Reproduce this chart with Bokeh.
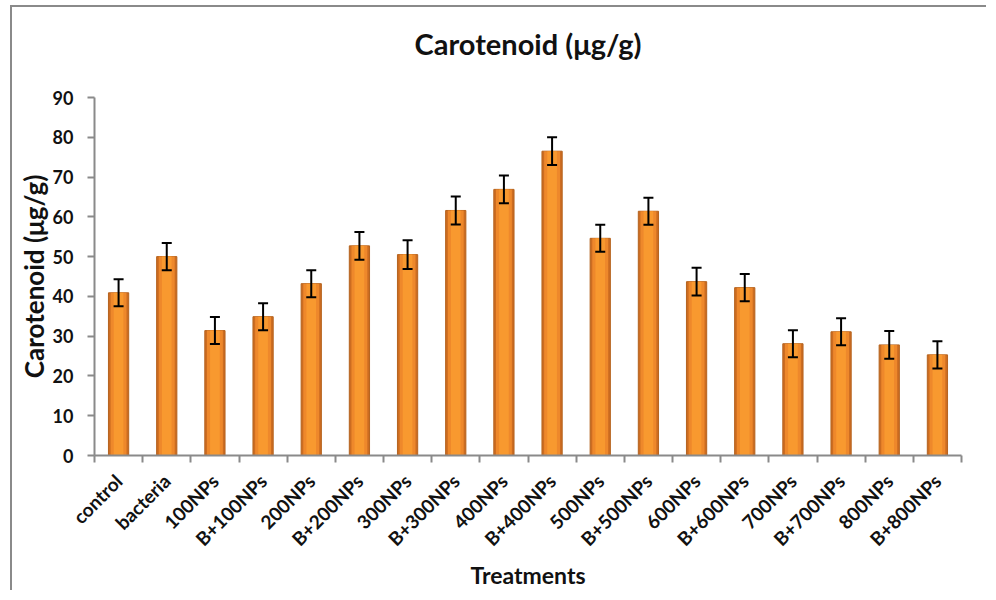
import math
from bokeh.plotting import figure
from bokeh.models import ColumnDataSource, Whisker, FixedTicker, Range1d, TeeHead, LinearAxis
from bokeh.embed import file_html
from bokeh.resources import INLINE

categories = ["control", "bacteria", "100NPs", "B+100NPs", "200NPs", "B+200NPs",
              "300NPs", "B+300NPs", "400NPs", "B+400NPs", "500NPs", "B+500NPs",
              "600NPs", "B+600NPs", "700NPs", "B+700NPs", "800NPs", "B+800NPs"]
values = [40.9, 50.0, 31.4, 34.9, 43.2, 52.7, 50.5, 61.6, 66.9,
          76.5, 54.6, 61.4, 43.7, 42.2, 28.1, 31.1, 27.8, 25.3]
errors = [3.4, 3.4, 3.4, 3.4, 3.4, 3.5, 3.6, 3.5, 3.5,
          3.5, 3.4, 3.4, 3.5, 3.4, 3.4, 3.4, 3.5, 3.4]
y_ticks = [0, 10, 20, 30, 40, 50, 60, 70, 80, 90]
title_text = "Carotenoid (μg/g)"

FONT = "Lato"
xs = [i + 0.5 for i in range(len(categories))]
src = ColumnDataSource(dict(
    x=xs, top=values,
    upper=[v + e for v, e in zip(values, errors)],
    lower=[v - e for v, e in zip(values, errors)],
))

p = figure(width=976, height=585, output_backend="svg", toolbar_location=None,
           x_range=Range1d(0, len(categories)), y_range=Range1d(0, 90),
           min_border_left=82, min_border_right=27, min_border_top=90, min_border_bottom=137)
p.styles = {"border-top": "2px solid #8a8a8a", "border-left": "2px solid #8a8a8a",
            "margin-left": "10px", "margin-top": "5px"}

xa = p.below[0]
ya = p.left[0]

p.outline_line_color = None
p.xgrid.visible = False
p.ygrid.visible = False
p.background_fill_color = "white"
p.border_fill_color = "white"

# bars: darker outer shell + lighter core for a bevelled look
p.vbar(x="x", top="top", bottom=0, width=0.42, source=src,
       fill_color="#CC6C21", line_color="#B5631E", line_width=1)
p.vbar(x="x", top="top", bottom=0, width=0.33, source=src,
       fill_color="#EE882B", line_color=None)
p.vbar(x="x", top="top", bottom=0, width=0.20, source=src,
       fill_color="#F8992F", line_color=None)

w = Whisker(source=src, base="x", upper="upper", lower="lower",
            line_color="black", line_width=2, level="overlay",
            upper_head=TeeHead(size=10, line_width=2, line_color="black"),
            lower_head=TeeHead(size=10, line_width=2, line_color="black"))
p.add_layout(w)

# y axis
ya.ticker = FixedTicker(ticks=y_ticks, minor_ticks=[])
ya.axis_label = "Carotenoid (μg/g)"
ya.axis_label_text_font = FONT
ya.axis_label_text_font_size = "26px"
ya.axis_label_text_font_style = "bold"
ya.axis_label_text_color = "#111111"
ya.axis_label_standoff = 0
ya.major_label_text_font = FONT
ya.major_label_text_font_size = "18px"
ya.major_label_text_font_style = "bold"
ya.major_label_text_color = "#111111"
ya.major_label_standoff = 14
ya.axis_line_color = "#8a8a8a"
ya.axis_line_width = 2
ya.major_tick_line_color = "#8a8a8a"
ya.major_tick_line_width = 2
ya.major_tick_in = 0
ya.major_tick_out = 7

# x axis: labels at bar centres, ticks at category boundaries (minor ticks)
xa.ticker = FixedTicker(ticks=xs, minor_ticks=list(range(len(categories) + 1)))
xa.major_label_overrides = {x: c for x, c in zip(xs, categories)}
xa.major_label_orientation = math.pi / 4
xa.major_label_text_font = FONT
xa.major_label_text_font_size = "19px"
xa.major_label_text_font_style = "bold"
xa.major_label_text_color = "#111111"
xa.major_label_standoff = 15
xa.major_tick_line_color = None
xa.minor_tick_line_color = "#8a8a8a"
xa.minor_tick_line_width = 2
xa.minor_tick_in = 0
xa.minor_tick_out = 7
xa.axis_line_color = "#8a8a8a"
xa.axis_line_width = 2
xa.axis_label = "Treatments"
xa.axis_label_text_font = FONT
xa.axis_label_text_font_size = "23px"
xa.axis_label_text_font_style = "bold"
xa.axis_label_text_color = "#111111"
xa.axis_label_standoff = 0

# chart title drawn as the label of an otherwise invisible top axis
ta = LinearAxis(ticker=FixedTicker(ticks=[], minor_ticks=[]), axis_label=title_text,
                bounds=(0, 17.27))
ta.axis_line_color = None
ta.major_tick_line_color = None
ta.minor_tick_line_color = None
ta.major_tick_in = 0
ta.major_tick_out = 0
ta.major_label_text_font_size = "0px"
ta.axis_label_text_font = FONT
ta.axis_label_text_font_size = "29px"
ta.axis_label_text_font_style = "bold"
ta.axis_label_text_color = "#111111"
ta.axis_label_standoff = 37
p.add_layout(ta, "above")

open("out.html", "w").write(file_html(p, INLINE))
